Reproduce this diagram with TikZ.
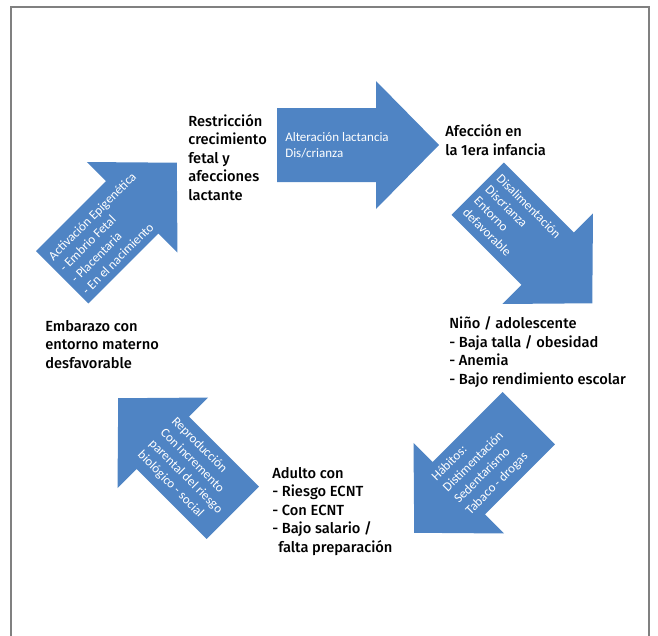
\documentclass[tikz,border=0pt]{standalone}
\usepackage{fontspec}
\setmainfont{Fira Sans}
\newfontfamily\stagefont{Fira Sans Medium}
\newfontfamily\arrowfont{Carlito}
\usetikzlibrary{positioning}
\definecolor{cycleBlue}{HTML}{4F84C4}
\definecolor{frameGray}{HTML}{808080}
\newcommand{\arrowpath}{(-81,-37) -- (18,-37) -- (18,-64) -- (81,0) -- (18,64) -- (18,37) -- (-81,37) -- cycle}

\begin{document}
\begin{tikzpicture}[x=0.75pt, y=-0.75pt,
		arrowbody/.style={fill=cycleBlue},
		atext/.style={text=white, font=\arrowfont\fontsize{9.75}{12}\selectfont, align=left, inner sep=0pt, anchor=west},
		lb/.style={font=\stagefont\fontsize{11}{13.8}\selectfont, align=left, inner sep=0pt, anchor=base west}
		]
		\useasboundingbox (0,0) rectangle (658,636);
		\draw[frameGray, line width=1.5pt] (11,636) |- (649,7) -- (649,636);

		% block arrows
		\begin{scope}[shift={(358,145)}]
			\fill[arrowbody] \arrowpath;
			\node[atext] (alteracion) at (-73,0) {Alteración lactancia\\Dis/crianza};
		\end{scope}
		\begin{scope}[shift={(119.5,220)}, rotate=45]
			\fill[arrowbody] \arrowpath;
			\node[atext, rotate=45] (activacion) at (-76,2) {Activación Epigenética\\- Embrio Fetal\\- Placentaria\\- En el nacimiento};
		\end{scope}
		\begin{scope}[shift={(535,246)}, rotate=-45]
			\fill[arrowbody] \arrowpath;
			\node[atext, rotate=-45] (disalimentacion) at (-75,0) {Disalimentación\\Discrianza\\Entorno\\defavorable};
		\end{scope}
		\begin{scope}[shift={(471.5,475.5)}, rotate=-135]
			\fill[arrowbody] \arrowpath;
			\node[atext, rotate=45] (habitos) at (29,0) {Hábitos:\\Distimentación\\Sedentarismo\\Tabaco - drogas};
		\end{scope}
		\begin{scope}[shift={(175.5,455.5)}, rotate=135]
			\fill[arrowbody] \arrowpath;
			\node[atext, rotate=-45] (reproduccion) at (27,0) {Reproducción\\Con incremento\\parental del riesgo\\biológico - social};
		\end{scope}

		% stages (anchored on the last line)
		\node[lb] (restriccion) at (188,200) {Restricción\\crecimiento\\fetal y\\afecciones\\lactante};
		\node[lb] (afeccion) at (445,155) {Afección en\\la 1era infancia};
		\node[lb] (nino) at (449,384) {Niño / adolescente\\- Baja talla / obesidad\\- Anemia\\- Bajo rendimiento escolar};
		\node[lb] (adulto) at (272,552) {Adulto con\\- Riesgo ECNT\\- Con ECNT\\- Bajo salario /\\\hspace{4.5pt}falta preparación};
		\node[lb] (embarazo) at (45,368) {Embarazo con\\entorno materno\\desfavorable};
	\end{tikzpicture}
\end{document}
